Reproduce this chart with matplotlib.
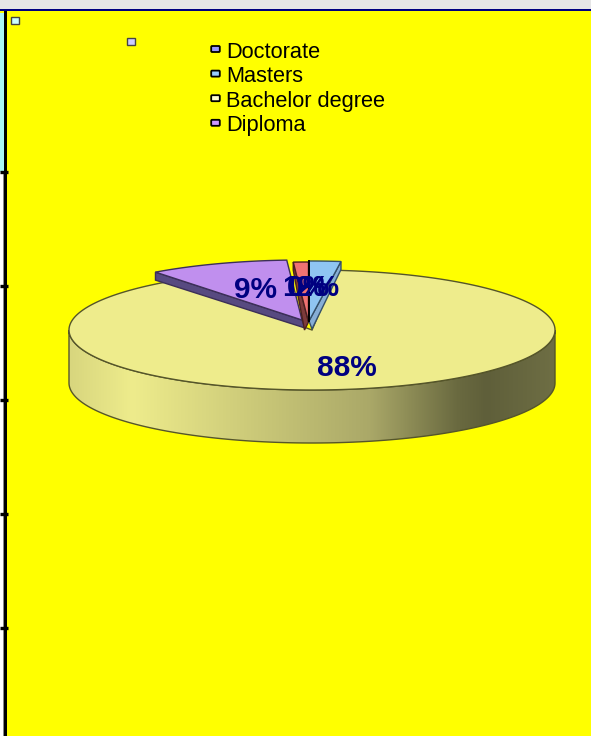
import numpy as np
import matplotlib
matplotlib.use("Agg")
import matplotlib.pyplot as plt
import matplotlib.patches as mpatches
from matplotlib.colors import LinearSegmentedColormap

plt.rcParams['font.family'] = ['Liberation Sans', 'DejaVu Sans']

# slices, clockwise from twelve o'clock
slice_names = ["Doctorate", "Masters", "Bachelor degree", "Diploma", "Other"]
slice_values = [0.0, 2.1, 87.6, 9.3, 1.0]
slice_colors = ["#9999ff", "#8fc5f2", "#eeec8c", "#c08fee", "#f07272"]
side_colors = ["#222266", "#86aed6", "#eeec8c", "#574a80", "#7d3b3b"]
edge_colors = ["#000033", "#34506a", "#55552a", "#3c2f58", "#4a2020"]
legend_names = ["Doctorate", "Masters", "Bachelor degree", "Diploma"]
legend_faces = ["#9999ff", "#99ccff", "#ffffcc", "#cc99ff"]

# pixel layout of the pie
CX, CY, RX, RY = 312, 330, 243, 60
DEPTH_MAIN = 53
DEPTH_PULLED = 8
# top-surface apex of each pulled slice
apex = {"Doctorate": (309, 321), "Masters": (309, 321), "Other": (308.5, 322), "Diploma": (302, 320)}
# sideways shift of the wall foot at the apex
wall_dx = {"Masters": 3, "Other": -4, "Diploma": 3}

fig = plt.figure(figsize=(5.91, 7.36), dpi=100)
ax = fig.add_axes([0, 0, 1, 1])
ax.set_xlim(0, 591)
ax.set_ylim(736, 0)
ax.axis("off")


def arc(cx, cy, a0, a1, n=120):
    # a0, a1 are clockwise degrees from the top
    t = np.radians(np.linspace(a0, a1, n))
    return cx + RX * np.sin(t), cy - RY * np.cos(t)


def poly(x, y, face, edge, lw=1.0, z=2):
    p = mpatches.Polygon(np.column_stack([x, y]), closed=True, facecolor=face,
                         edgecolor=edge, linewidth=lw, zorder=z)
    ax.add_patch(p)
    return p


# --- frame ---
ax.add_patch(mpatches.Rectangle((0, 0), 591, 736, facecolor="#ffff00", zorder=0))
ax.add_patch(mpatches.Rectangle((0, 0), 591, 9, facecolor="#e6e6e6", zorder=1))
ax.add_patch(mpatches.Rectangle((0, 9), 591, 2, facecolor="#000080", zorder=1))
ax.add_patch(mpatches.Rectangle((0, 13), 3.5, 159, facecolor="#aaf6f6", zorder=1))
ax.add_patch(mpatches.Rectangle((0, 172), 3.5, 564, facecolor="#ffffff", zorder=1))
ax.add_patch(mpatches.Rectangle((3, 172), 1, 564, facecolor="#888888", zorder=1))
ax.add_patch(mpatches.Rectangle((3.5, 11), 3.5, 725, facecolor="#000000", zorder=1))
for tick_y in [172, 286, 400, 514, 628]:
    ax.plot([0, 8], [tick_y, tick_y], color="black", lw=2.4, zorder=1, solid_capstyle="butt")

# stray selection handles
ax.add_patch(mpatches.Rectangle((11, 16.5), 8, 7, facecolor="#ccffff", edgecolor="#444444", lw=1, zorder=3))
ax.add_patch(mpatches.Rectangle((127, 38), 8, 7, facecolor="#ccccff", edgecolor="#444444", lw=1, zorder=3))

# --- slice angles ---
total = sum(slice_values)
ends = np.cumsum(slice_values) / total * 360
starts = ends - np.array(slice_values) / total * 360

# --- main slice: rim with a gradient, then the top ---
i_main = slice_names.index("Bachelor degree")
rim_x, rim_y = arc(CX, CY, 90, 270)
rim = mpatches.Polygon(np.column_stack([np.r_[rim_x, rim_x[::-1]],
                                        np.r_[rim_y, rim_y[::-1] + DEPTH_MAIN]]),
                       closed=True, facecolor="none", edgecolor=edge_colors[i_main], lw=1.0, zorder=3)
ax.add_patch(rim)
rim_cmap = LinearSegmentedColormap.from_list("rim", [(0, "#d8d67e"), (0.13, "#eeec8c"), (0.33, "#d2d07c"),
                                                     (0.62, "#aaa868"), (0.8, "#6a6a40"), (0.86, "#5f5f3a"),
                                                     (1, "#6e6e44")])
im = ax.imshow(np.linspace(0, 1, 256).reshape(1, -1), cmap=rim_cmap, aspect="auto", zorder=2,
               extent=(CX - RX, CX + RX, CY + RY + DEPTH_MAIN, CY))
im.set_clip_path(rim)
ax.set_xlim(0, 591)
ax.set_ylim(736, 0)

# runs a little past both ends so it tucks under the pulled slices
x, y = arc(CX, CY, starts[i_main] - 1.5, ends[i_main] + 3, 300)
poly(np.r_[CX, x], np.r_[CY, y], slice_colors[i_main], edge_colors[i_main], 1.0, 4)

# --- pulled slices: radial side wall, then top ---
for name, z in [("Diploma", 5), ("Other", 6), ("Masters", 7)]:
    i = slice_names.index(name)
    ax_, ay_ = apex[name]
    x, y = arc(ax_, ay_, starts[i], ends[i], 40)
    # the wall shows on the edge that faces the viewer
    wx, wy = (x[-1], y[-1]) if name == "Masters" else (x[0], y[0])
    poly([ax_, wx, wx, ax_ + wall_dx[name]],
         [ay_, wy, wy + DEPTH_PULLED, ay_ + DEPTH_PULLED],
         side_colors[i], edge_colors[i], 1.0, z)
    poly(np.r_[ax_, x], np.r_[ay_, y], slice_colors[i], edge_colors[i], 1.0, z)

# zero-width slice still leaves its outline
i = slice_names.index("Doctorate")
x, y = arc(*apex["Doctorate"], starts[i], ends[i], 2)
ax.plot([apex["Doctorate"][0], x[0]], [apex["Doctorate"][1], y[0]], color="black", lw=1.4, zorder=8)

# --- percentage labels ---
LABEL_R = 0.62
for i, name in enumerate(slice_names):
    mid = np.radians((starts[i] + ends[i]) / 2)
    cy = CY + 2 if name == "Bachelor degree" else CY - 5
    ax.text(CX - 4 + LABEL_R * RX * np.sin(mid), cy - LABEL_R * RY * np.cos(mid),
            f"{slice_values[i]:.0f}%", color="#000080", fontsize=21.5, fontweight="bold",
            ha="center", va="center", zorder=10)

# --- legend ---
for i, (name, face) in enumerate(zip(legend_names, legend_faces)):
    ax.add_patch(mpatches.FancyBboxPatch((211.2, 46 + i * 24.6), 8.6, 6, boxstyle="round,pad=0,rounding_size=1",
                                         facecolor=face, edgecolor="black", lw=1.3, zorder=9))
    ax.text(226.5, 57.5 + i * 24.5, name, color="black", fontsize=15.7, ha="left", va="baseline", zorder=9)

fig.savefig("out.png", dpi=100)
